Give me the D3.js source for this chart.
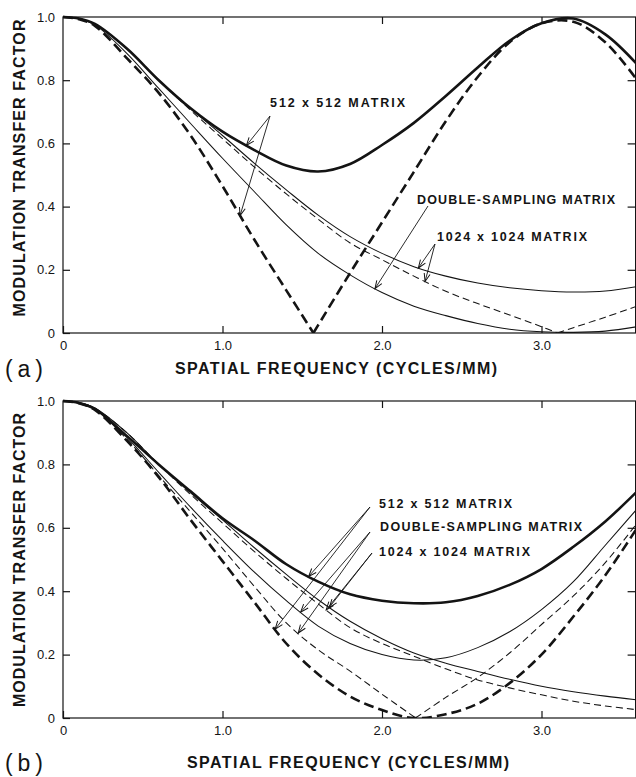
<!DOCTYPE html>
<html>
<head>
<meta charset="utf-8">
<script src="https://cdn.jsdelivr.net/npm/d3@7"></script>
<style>
body{margin:0;background:#fff;}
svg{display:block;font-family:"Liberation Sans",Arial,Helvetica,sans-serif;}
</style>
</head>
<body>
<script>
// spatial frequency grid (cycles/mm), shared by every curve
var freq = [0, 0.1, 0.2, 0.4, 0.6, 0.8, 1.0, 1.2, 1.4, 1.6, 1.8, 2.0, 2.2, 2.4, 2.6, 2.8, 3.0, 3.2, 3.4, 3.6];

// panel (a)
var a512Solid   = [1.0, 0.995, 0.978, 0.90, 0.80, 0.711, 0.637, 0.579, 0.530, 0.511, 0.535, 0.595, 0.665, 0.75, 0.84, 0.925, 0.98, 0.995, 0.945, 0.85];
var a512Dashed  = [1.0, 0.993, 0.972, 0.87, 0.76, 0.625, 0.465, 0.295, 0.135, 0.025, 0.19, 0.35, 0.51, 0.67, 0.81, 0.92, 0.98, 0.985, 0.92, 0.80];
var aDouble     = [1.0, 0.994, 0.975, 0.885, 0.774, 0.663, 0.553, 0.447, 0.342, 0.252, 0.184, 0.128, 0.085, 0.055, 0.03, 0.012, 0.004, 0.002, 0.006, 0.02];
var a1024Solid  = [1.0, 0.995, 0.978, 0.90, 0.80, 0.71, 0.625, 0.537, 0.453, 0.373, 0.305, 0.252, 0.21, 0.18, 0.158, 0.143, 0.134, 0.13, 0.133, 0.147];
var a1024Dashed = [1.0, 0.995, 0.977, 0.90, 0.80, 0.705, 0.615, 0.525, 0.44, 0.36, 0.285, 0.232, 0.18, 0.132, 0.093, 0.057, 0.02, 0.017, 0.05, 0.085];

// panel (b)
var b512Solid     = [1.0, 0.994, 0.975, 0.89, 0.80, 0.715, 0.63, 0.56, 0.485, 0.43, 0.39, 0.37, 0.362, 0.365, 0.385, 0.42, 0.47, 0.54, 0.62, 0.715];
var b512Dashed    = [1.0, 0.993, 0.972, 0.875, 0.76, 0.625, 0.495, 0.365, 0.235, 0.138, 0.068, 0.025, 0.0, 0.012, 0.045, 0.11, 0.2, 0.32, 0.45, 0.60];
var bDoubleSolid  = [1.0, 0.994, 0.975, 0.885, 0.775, 0.665, 0.56, 0.46, 0.37, 0.29, 0.235, 0.2, 0.183, 0.19, 0.222, 0.272, 0.342, 0.43, 0.545, 0.66];
var bDoubleDashed = [1.0, 0.993, 0.973, 0.88, 0.765, 0.65, 0.535, 0.415, 0.30, 0.215, 0.148, 0.075, 0.004, 0.065, 0.128, 0.205, 0.295, 0.385, 0.49, 0.615];
var b1024Solid    = [1.0, 0.995, 0.978, 0.90, 0.80, 0.71, 0.625, 0.537, 0.453, 0.373, 0.305, 0.25, 0.205, 0.173, 0.147, 0.122, 0.1, 0.083, 0.069, 0.057];
var b1024Dashed   = [1.0, 0.995, 0.977, 0.90, 0.80, 0.705, 0.615, 0.525, 0.44, 0.36, 0.285, 0.235, 0.195, 0.155, 0.12, 0.095, 0.073, 0.053, 0.038, 0.026];

// frequencies where a curve touches zero with a sharp corner
var cuspsA = [["a512Dashed", 1.57], ["a1024Dashed", 3.1]];
var cuspsB = [["bDoubleDashed", 2.21]];

// axis ticks
var xTicks = [0, 1, 2, 3];
var yTicks = [0, 0.2, 0.4, 0.6, 0.8, 1.0];

var labelTexts = ["512 x 512 MATRIX", "DOUBLE-SAMPLING MATRIX", "1024 x 1024 MATRIX"];
var xTitle = "SPATIAL FREQUENCY (CYCLES/MM)";
var yTitle = "MODULATION TRANSFER FACTOR";

var W = 636, H = 777;
var INK = "#141414";
var svg = d3.select("body").append("svg").attr("width", W).attr("height", H);

// open arrow head
svg.append("defs").append("marker")
	.attr("id", "head")
	.attr("viewBox", "-9 -5 11 10")
	.attr("markerUnits", "userSpaceOnUse")
	.attr("markerWidth", 11).attr("markerHeight", 10)
	.attr("refX", 0).attr("refY", 0)
	.attr("orient", "auto")
	.append("path")
	.attr("d", "M-8,-3L0,0L-8,3")
	.attr("fill", "none").attr("stroke", INK).attr("stroke-width", 1);

var x = d3.scaleLinear().domain([0, 3.6]).range([63, 637.2]);
var xRight = x(3.59);
var fmt = function(d){ return d === 0 ? "0" : d3.format(".1f")(d); };

var line = d3.line()
	.x(function(d){ return x(d[0]); })
	.curve(d3.curveCatmullRom.alpha(0.5));

function pieces(vals, cusp){
	var pts = freq.map(function(f, i){ return [f, vals[i]]; });
	if (cusp == null) return [pts];
	var left = pts.filter(function(p){ return p[0] < cusp; }).concat([[cusp, 0]]);
	var right = [[cusp, 0]].concat(pts.filter(function(p){ return p[0] > cusp; }));
	return [left, right];
}

// value of a curve at f (linear between read points)
function valueAt(segs, f){
	for (var s = 0; s < segs.length; s++){
		var p = segs[s];
		for (var i = 0; i < p.length - 1; i++){
			if (f >= p[i][0] && f <= p[i+1][0]){
				var t = (f - p[i][0]) / (p[i+1][0] - p[i][0]);
				return p[i][1] + t * (p[i+1][1] - p[i][1]);
			}
		}
	}
	return 0;
}

function drawPanel(cfg){
	var y = d3.scaleLinear().domain([0, 1]).range([cfg.bottom, cfg.top]);
	line.y(function(d){ return y(d[1]); });
	var g = svg.append("g");

	g.append("clipPath").attr("id", "clip" + cfg.id)
		.append("rect")
		.attr("x", x(0)).attr("y", cfg.top - 5)
		.attr("width", xRight - x(0)).attr("height", cfg.bottom - cfg.top + 5);

	//坐标轴
	var axL = g.append("g").attr("transform", "translate(" + x(0) + ",0)")
		.call(d3.axisLeft(y).tickValues(yTicks).tickSize(-7).tickPadding(8).tickFormat(fmt));
	var axR = g.append("g").attr("transform", "translate(" + xRight + ",0)")
		.call(d3.axisRight(y).tickValues([0.2, 0.4, 0.6, 0.8]).tickSize(-8).tickFormat(""));
	var axB = g.append("g").attr("transform", "translate(0," + cfg.bottom + ")")
		.call(d3.axisBottom(x).tickValues(xTicks).tickSize(-7).tickPadding(8).tickFormat(fmt));
	var axT = g.append("g").attr("transform", "translate(0," + cfg.top + ")")
		.call(d3.axisTop(x).tickValues([1, 2, 3]).tickSize(-7).tickFormat(""));
	[axL, axR, axB, axT].forEach(function(a){
		a.select(".domain").remove();
		a.selectAll("line").attr("stroke", INK).attr("stroke-width", 1.2);
		a.selectAll("text").attr("fill", INK).attr("font-size", 13)
			.attr("font-family", "'Liberation Sans',Arial,sans-serif");
	});
	g.append("rect")
		.attr("x", x(0)).attr("y", cfg.top)
		.attr("width", xRight - x(0)).attr("height", cfg.bottom - cfg.top)
		.attr("fill", "none").attr("stroke", INK).attr("stroke-width", 1.2);

	//曲线
	var segsByName = {};
	var cg = g.append("g").attr("clip-path", "url(#clip" + cfg.id + ")");
	cfg.series.forEach(function(s){
		var cusp = null;
		cfg.cusps.forEach(function(c){ if (c[0] === s.name) cusp = c[1]; });
		var segs = pieces(s.values, cusp);
		segsByName[s.name] = segs;
		segs.forEach(function(p){
			cg.append("path")
				.attr("d", line(p))
				.attr("fill", "none")
				.attr("stroke", INK)
				.attr("stroke-width", s.thick ? 2.6 : 1.05)
				.attr("stroke-dasharray", s.dashed ? (s.thick ? "10,5" : "7,4") : null);
		});
	});

	//标注文字和箭头
	cfg.labels.forEach(function(l){
		g.append("text")
			.attr("x", l.x).attr("y", l.y)
			.attr("dominant-baseline", "central")
			.attr("font-size", 12.5).attr("font-weight", "bold").attr("fill", INK)
			.attr("textLength", l.len).attr("lengthAdjust", "spacing")
			.text(labelTexts[l.text]);
		l.arrows.forEach(function(a){
			var fx = x(a[1]), fy = y(valueAt(segsByName[a[0]], a[1]));
			g.append("line")
				.attr("x1", l.sx).attr("y1", l.sy)
				.attr("x2", fx).attr("y2", fy)
				.attr("stroke", INK).attr("stroke-width", 0.9)
				.attr("marker-end", "url(#head)");
		});
	});

	//轴标题
	g.append("text")
		.attr("transform", "translate(19," + cfg.yTitleY + ") rotate(-90)")
		.attr("text-anchor", "middle").attr("dominant-baseline", "central")
		.attr("font-size", 16).attr("font-weight", "bold").attr("fill", INK)
		.attr("textLength", cfg.yTitleLen).attr("lengthAdjust", "spacing")
		.text(yTitle);
	g.append("text")
		.attr("x", cfg.xTitleX).attr("y", cfg.xTitleY)
		.attr("text-anchor", "middle").attr("dominant-baseline", "central")
		.attr("font-size", 16).attr("font-weight", "bold").attr("fill", INK)
		.attr("textLength", 322).attr("lengthAdjust", "spacing")
		.text(xTitle);
	g.append("text")
		.attr("x", 5).attr("y", cfg.letterY)
		.attr("dominant-baseline", "central")
		.attr("font-size", 23).attr("fill", INK)
		.attr("textLength", 38).attr("lengthAdjust", "spacing")
		.text(cfg.letter);
}

drawPanel({
	id: "a", top: 17, bottom: 333, letter: "(a)", letterY: 369,
	yTitleY: 168, yTitleLen: 297, xTitleX: 336, xTitleY: 368,
	cusps: cuspsA,
	series: [
		{name: "a512Solid", values: a512Solid, thick: true, dashed: false},
		{name: "a512Dashed", values: a512Dashed, thick: true, dashed: true},
		{name: "aDouble", values: aDouble, thick: false, dashed: false},
		{name: "a1024Solid", values: a1024Solid, thick: false, dashed: false},
		{name: "a1024Dashed", values: a1024Dashed, thick: false, dashed: true}
	],
	labels: [
		{text: 0, x: 270, y: 103, len: 135, sx: 270, sy: 116, arrows: [["a512Solid", 1.15], ["a512Dashed", 1.11]]},
		{text: 1, x: 417, y: 200, len: 198, sx: 428, sy: 206, arrows: [["aDouble", 1.956]]},
		{text: 2, x: 437, y: 237, len: 150, sx: 435, sy: 244, arrows: [["a1024Solid", 2.228], ["a1024Dashed", 2.27]]}
	]
});

drawPanel({
	id: "b", top: 401, bottom: 718, letter: "(b)", letterY: 763,
	yTitleY: 560, yTitleLen: 294, xTitleX: 348, xTitleY: 762,
	cusps: cuspsB,
	series: [
		{name: "b512Solid", values: b512Solid, thick: true, dashed: false},
		{name: "b512Dashed", values: b512Dashed, thick: true, dashed: true},
		{name: "bDoubleSolid", values: bDoubleSolid, thick: false, dashed: false},
		{name: "bDoubleDashed", values: bDoubleDashed, thick: false, dashed: true},
		{name: "b1024Solid", values: b1024Solid, thick: false, dashed: false},
		{name: "b1024Dashed", values: b1024Dashed, thick: false, dashed: true}
	],
	labels: [
		{text: 0, x: 379, y: 504, len: 133, sx: 370, sy: 507, arrows: [["b512Solid", 1.54], ["b512Dashed", 1.33]]},
		{text: 1, x: 380, y: 527, len: 202, sx: 370, sy: 532, arrows: [["bDoubleSolid", 1.49], ["bDoubleDashed", 1.475]]},
		{text: 2, x: 379, y: 552, len: 151, sx: 372, sy: 553, arrows: [["b1024Solid", 1.67], ["b1024Dashed", 1.65]]}
	]
});
</script>
</body>
</html>
